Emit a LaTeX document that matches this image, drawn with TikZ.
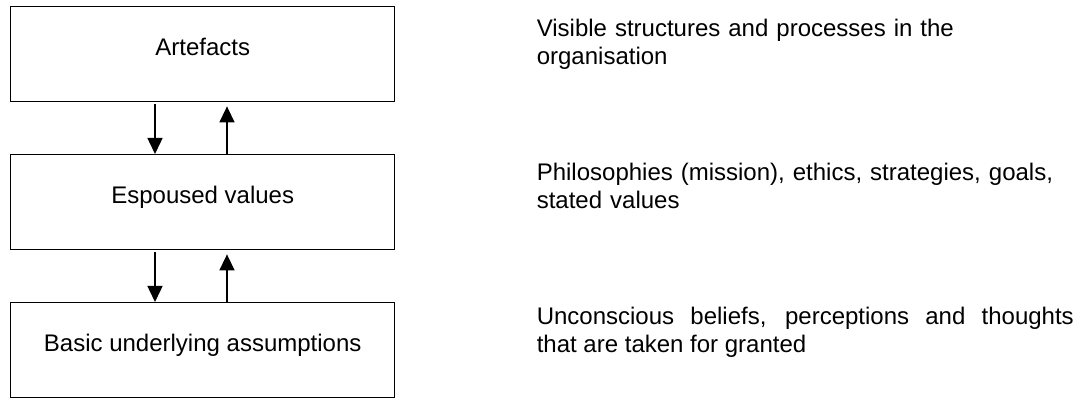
\documentclass[tikz,border=0pt]{standalone}
\usepackage{fontspec}
\setmainfont{Liberation Sans}
\usetikzlibrary{arrows.meta}
\usetikzlibrary{positioning}

\begin{document}
\begin{tikzpicture}[
    x=1pt, y=1pt,
    level/.style={draw, line width=0.7pt, minimum width=192pt, minimum height=47.5pt,
      inner sep=0pt, text height=9pt, text depth=7.5pt, font=\fontsize{12}{14}\selectfont},
    desc/.style={text width=268.5pt, inner sep=0pt, font=\fontsize{12}{14}\selectfont},
    link/.style={line width=0.75pt, -{Triangle[length=8pt,width=7.5pt]}},
  ]
  \useasboundingbox (0,0) rectangle (541,-199.5);

  \node [level, anchor=north west] (art) at (5,-3) {Artefacts};
  \node [level, below=25.8pt of art] (esp) {Espoused values};
  \node [level, below=25.8pt of esp] (bua) {Basic underlying assumptions};

  \node [desc, align=left, right=70.5pt of art.north east, anchor=base west, yshift=-15.5pt] (artdesc)
    {Visible structures and processes in the\\organisation};
  \node [desc, align=left, right=70.5pt of esp.north east, anchor=base west, yshift=-13.5pt] (espdesc)
    {Philosophies (mission), ethics, strategies, goals,\\stated values};
  \node [desc, align=justify, right=70.5pt of bua.north east, anchor=base west, yshift=-11.5pt] (buadesc)
    {Unconscious beliefs, perceptions and thoughts\linebreak that are taken for granted};

  \draw [link] ([xshift=72.5pt, yshift=-1pt]art.south west) -- ([xshift=72.5pt]esp.north west);
  \draw [link] ([xshift=108.5pt]esp.north west) -- ([xshift=108.5pt, yshift=-2pt]art.south west);
  \draw [link] ([xshift=72.5pt, yshift=-1pt]esp.south west) -- ([xshift=72.5pt]bua.north west);
  \draw [link] ([xshift=108.5pt]bua.north west) -- ([xshift=108.5pt, yshift=-2pt]esp.south west);
\end{tikzpicture}
\end{document}
